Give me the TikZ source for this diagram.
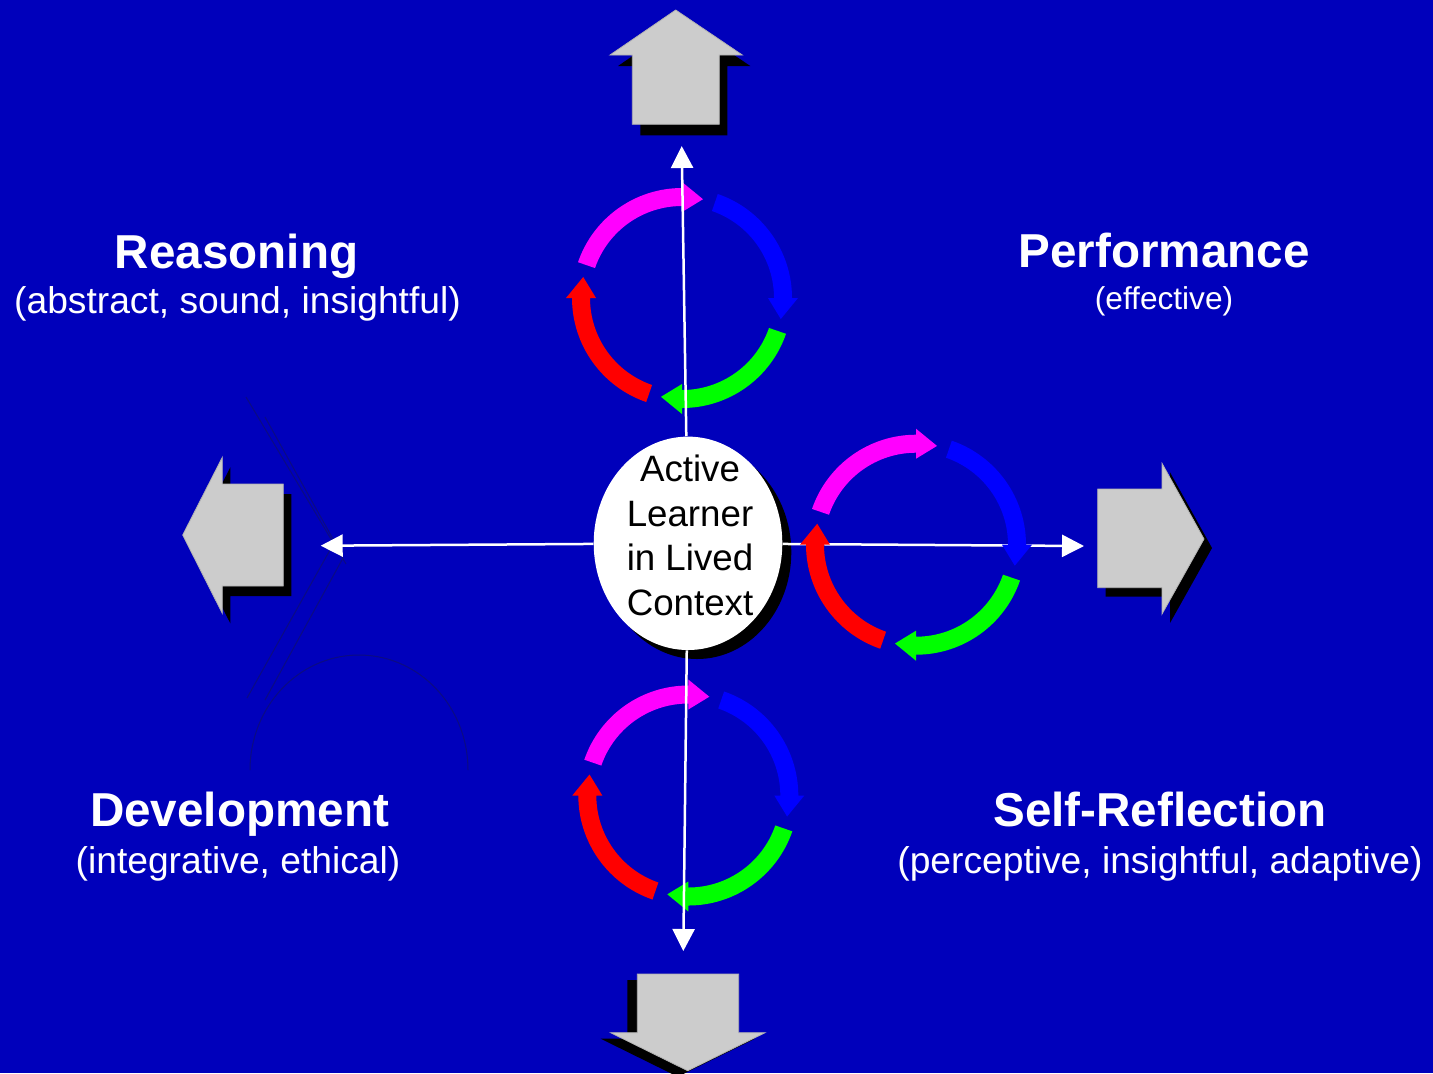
\documentclass[tikz,border=0pt]{standalone}
\usepackage{fontspec}
\setmainfont{Liberation Sans}
\usetikzlibrary{arrows.meta,shapes.geometric}
\definecolor{bg}{RGB}{0,0,187}
\definecolor{arrowgray}{RGB}{204,204,204}
\definecolor{faint}{RGB}{12,12,130}
\definecolor{cmag}{RGB}{255,0,255}
\definecolor{cblu}{RGB}{0,0,255}
\definecolor{cgrn}{RGB}{0,255,0}
\definecolor{cred}{RGB}{255,0,0}
% one curved arrow of a cycle: colour, tail angle, head-base angle, tip angle
\newcommand\cyclarr[4]{%
  \fill[#1] (#2:110) arc[start angle=#2,end angle=#3,radius=110]
    -- (#3:116) -- (#4:101) -- (#3:86) -- (#3:92)
    arc[start angle=#3,end angle=#2,radius=92] -- cycle;}
\newcommand\cycleat[1]{%
  \begin{scope}[shift={(#1)},yscale=-1]
    \cyclarr{cmag}{161}{90}{78}
    \cyclarr{cblu}{71}{0}{-12}
    \cyclarr{cgrn}{-19}{-90}{-102}
    \cyclarr{cred}{-109}{-180}{-192}
  \end{scope}}
% block arrow with drop shadow: shadow offset, outline
\newcommand\blockarrow[2]{%
  \fill[black,shift={(#1)}] #2;
  \filldraw[blockstyle] #2;}
\begin{document}
\begin{tikzpicture}[x=0.5pt,y=-0.5pt,
  blockstyle/.style={fill=arrowgray,draw=gray!60,line width=0.4pt},
  whiteline/.style={draw=white,line width=1.25pt,-{Triangle[length=11pt,width=11pt]}},
  faintline/.style={draw=faint,line width=0.5pt},
  title/.style={text=white,inner sep=0pt,anchor=base,font=\bfseries\fontsize{23.8pt}{28pt}\selectfont},
  subtitle/.style={text=white,inner sep=0pt,anchor=base,font=\fontsize{18.6pt}{22pt}\selectfont},
  smallsub/.style={text=white,inner sep=0pt,anchor=base,font=\fontsize{15.8pt}{19pt}\selectfont},
  centertext/.style={text=black,inner sep=0pt,align=center,font=\fontsize{18.35pt}{22.25pt}\selectfont}]
\useasboundingbox (0,0) rectangle (1433,1073);
\clip (0,0) rectangle (1433,1073);
\fill[bg] (0,0) rectangle (1433,1073);

% faint background strokes
\draw[faintline] (246,397) -- (346,564);
\draw[faintline] (265,417) -- (338,548);
\draw[faintline] (330,550) -- (247,698);
\draw[faintline] (343,558) -- (265,700);
\draw[faintline] (250,770) arc[start angle=180,end angle=360,x radius=109,y radius=115];

% grey block arrows
\blockarrow{8,11}{(675.7,10) -- (742.3,55) -- (719.3,55) -- (719.3,124.3) -- (632.3,124.3) -- (632.3,55) -- (610,55) -- cycle}
\blockarrow{8,10}{(182.7,535) -- (222.3,457.3) -- (222.3,484) -- (283.3,484) -- (283.3,586) -- (222.3,586) -- (222.3,613.3) -- cycle}
\blockarrow{8,9}{(1097.7,489) -- (1162,489) -- (1162,463.3) -- (1204,539) -- (1162,614) -- (1162,587.7) -- (1097.7,587.7) -- cycle}
\blockarrow{-10,6}{(637.3,974) -- (738.7,974) -- (738.7,1032.7) -- (765,1032.7) -- (687.7,1070.7) -- (610.7,1032.7) -- (637.3,1032.7) -- cycle}

% cycles under the white lines
\cycleat{682,298}
\cycleat{688.3,795.5}

% centre
\fill[black] (697,552.3) ellipse[x radius=94.3,y radius=106.7];
\node[ellipse,fill=white,inner sep=0pt,minimum width=94.3pt,minimum height=106.7pt] (center) at (688,543.3) {};
\node[centertext] (centerlabel) at (690,535.2) {Active\\Learner\\in Lived\\Context};

\coordinate (toptip) at (681.7,146);
\coordinate (bottip) at (683.3,951);
\coordinate (lefttip) at (320.7,545.7);
\coordinate (righttip) at (1084,546);
\draw[whiteline] (center) -- (toptip);
\draw[whiteline] (center) -- (bottip);
\draw[whiteline] (center) -- (lefttip);
\draw[whiteline] (center) -- (righttip);

% cycle over the right line
\cycleat{916,544.7}

% labels
\node[title] (reasoning) at (236.5,268) {Reasoning};
\node[subtitle] (reasoningsub) at (237.5,313.5) {(abstract, sound, insightful)};
\node[title] (performance) at (1164,267.5) {Performance};
\node[smallsub] (performancesub) at (1164,309) {(effective)};
\node[title] (development) at (239.5,826.5) {Development};
\node[subtitle] (developmentsub) at (238,873.5) {(integrative, ethical)};
\node[title] (selfreflection) at (1160,826.5) {Self-Reflection};
\node[subtitle] (selfreflectionsub) at (1160,873.5) {(perceptive, insightful, adaptive)};
\end{tikzpicture}
\end{document}
